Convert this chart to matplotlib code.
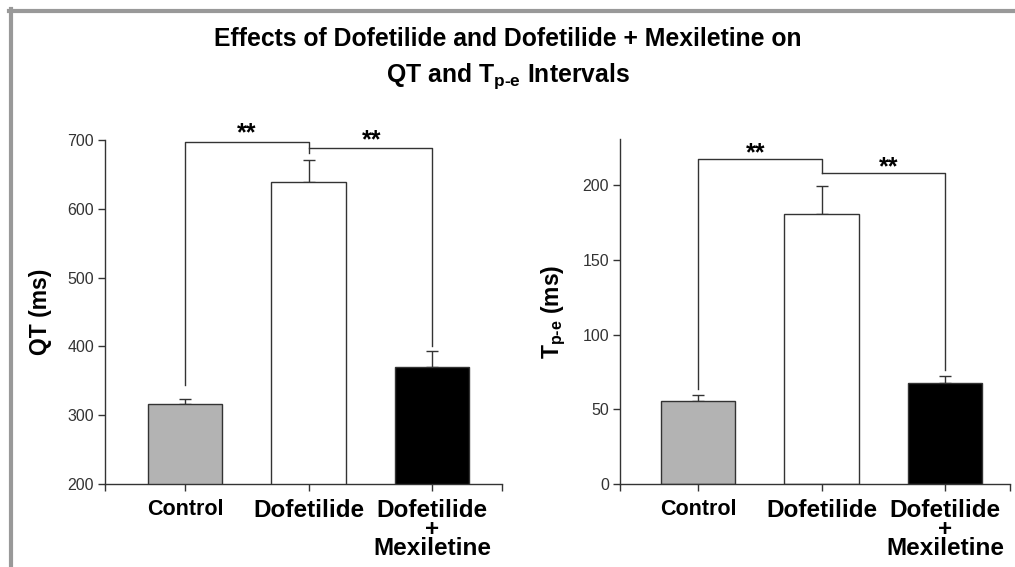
import matplotlib
matplotlib.use('Agg')
import matplotlib.pyplot as plt
from matplotlib.lines import Line2D

# ── Data ──────────────────────────────────────────────────────────────────────
categories = ['Control', 'Dofetilide', 'Dofetilide\n+\nMexiletine']
bar_colors = ['#b3b3b3', '#ffffff', '#000000']

qt_mean = [316, 639, 370]
qt_err = [7, 32, 23]

tpe_mean = [55.7, 180.8, 67.3]
tpe_err = [3.8, 18.5, 4.9]

# significance brackets: (left bar, right bar, top, left leg end, right leg end)
qt_brackets = [(0, 1, 697, 344, 681), (1, 2, 688, 688, 400)]
tpe_brackets = [(0, 1, 217.4, 63.5, 208.2), (1, 2, 208.2, 208.2, 76)]
# star labels: (x, y)
qt_stars = [(0.5, 700), (1.51, 689)]
tpe_stars = [(0.47, 216.8), (1.54, 207.5)]

plt.rcParams['font.family'] = ['Liberation Sans', 'DejaVu Sans']
plt.rcParams['mathtext.fontset'] = 'custom'
plt.rcParams['mathtext.rm'] = 'Liberation Sans:bold'
plt.rcParams['mathtext.bf'] = 'Liberation Sans:bold'

DARK = '#333333'

fig = plt.figure(figsize=(10.15, 5.67), dpi=100, facecolor='white')

# grey frame (top and left edges)
fig.add_artist(Line2D([9 / 1015, 1.0], [1 - 11 / 567, 1 - 11 / 567],
                      transform=fig.transFigure, color='#999999', lw=3))
fig.add_artist(Line2D([11 / 1015, 11 / 1015], [0.0, 1 - 9 / 567],
                      transform=fig.transFigure, color='#999999', lw=3))

fig.text(0.5, 1 - 46 / 567, 'Effects of Dofetilide and Dofetilide + Mexiletine on',
         ha='center', va='baseline', fontsize=17.8, fontweight='bold')
fig.text(0.5, 1 - 82 / 567, r'QT and T$_{\text{p-e}}$ Intervals',
         ha='center', va='baseline', fontsize=17.8, fontweight='bold')


def draw_panel(ax, means, errs, ylim, yticks, ylabel, brackets, stars, xlim):
    x = list(range(len(categories)))
    ax.bar(x, means, width=0.6, color=bar_colors, edgecolor=DARK, linewidth=1.0,
           zorder=2)
    ax.errorbar(x, means, yerr=[[0] * len(errs), errs], fmt='none',
                ecolor=DARK, elinewidth=1.0, capsize=4.5, capthick=1.0, zorder=1)
    for x0, x1, top, y0, y1 in brackets:
        ax.plot([x0, x0, x1, x1], [y0, top, top, y1], color=DARK, lw=1.0,
                clip_on=False, zorder=3)
    for sx, sy in stars:
        ax.text(sx, sy, '**', ha='center', va='baseline', fontsize=18,
                fontweight='bold', clip_on=False)

    ax.set_xlim(*xlim)
    ax.set_ylim(*ylim)
    ax.set_yticks(yticks)
    ax.set_yticklabels([str(t) for t in yticks], fontsize=11.5, color=DARK)
    ax.set_xticks([xlim[0]] + x + [xlim[1]])
    ax.set_xticklabels([''] + categories + [''], fontweight='bold', color='black')
    for i, lab in enumerate(ax.get_xticklabels()[1:-1]):
        lab.set_fontsize(15.5 if i == 0 else 17.5)
        lab.set_linespacing(0.78)
    ax.tick_params(axis='x', direction='out', length=5, width=1.0, color=DARK, pad=6)
    ax.tick_params(axis='y', direction='out', length=5, width=1.0, color=DARK, pad=3)
    for side in ['top', 'right']:
        ax.spines[side].set_visible(False)
    for side in ['left', 'bottom']:
        ax.spines[side].set_color(DARK)
        ax.spines[side].set_linewidth(1.0)
    ax.set_ylabel(ylabel, fontsize=16.5, fontweight='bold')
    ax.yaxis.set_label_coords(-0.133, 0.5)


ax1 = fig.add_axes([105 / 1015, 1 - 484 / 567, 397 / 1015, 344 / 567])
draw_panel(ax1, qt_mean, qt_err, (200, 700), [200, 300, 400, 500, 600, 700],
           'QT (ms)', qt_brackets, qt_stars, (-0.648, 2.567))

ax2 = fig.add_axes([620 / 1015, 1 - 484 / 567, 390 / 1015, 345 / 567])
draw_panel(ax2, tpe_mean, tpe_err, (0, 231), [0, 50, 100, 150, 200],
           r'T$_{\text{p-e}}$ (ms)', tpe_brackets, tpe_stars, (-0.632, 2.526))

fig.savefig('out.png', dpi=100, facecolor='white')
